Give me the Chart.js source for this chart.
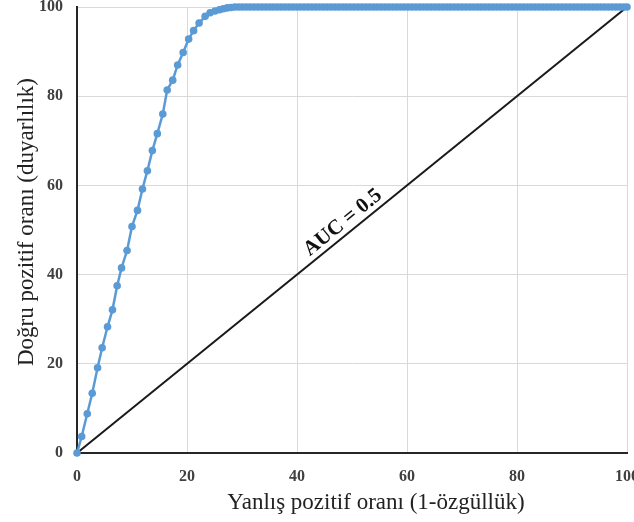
<!DOCTYPE html>
<html>
<head>
<meta charset="utf-8">
<script src="https://cdn.jsdelivr.net/npm/chart.js@4"></script>
<style>
  html, body { margin: 0; padding: 0; background: #fff; }
  #wrap { width: 634px; height: 522px; }
</style>
</head>
<body>
<div id="wrap"><canvas id="chart"></canvas></div>
<script>
// ROC curve points (false positive rate, true positive rate)
const rocX = [
    0, 0.85, 1.86, 2.77, 3.74, 4.57, 5.55, 6.45, 7.3, 8.1,
    9.1, 10.0, 11.0, 11.9, 12.8, 13.7, 14.6, 15.6, 16.4, 17.4,
    18.3, 19.3, 20.3, 21.2, 22.2, 23.3, 24.2, 25.1, 25.9, 26.6,
    27.3, 28.0,
    28.7, 29.4, 30.1, 30.8, 31.5, 32.2, 32.9, 33.6, 34.3, 35.0,
    35.7, 36.4, 37.1, 37.8, 38.5, 39.2, 39.9, 40.6, 41.3, 42.0,
    42.7, 43.4, 44.1, 44.8, 45.5, 46.2, 46.9, 47.6, 48.3, 49.0,
    49.7, 50.4, 51.1, 51.8, 52.5, 53.2, 53.9, 54.6, 55.3, 56.0,
    56.7, 57.4, 58.1, 58.8, 59.5, 60.2, 60.9, 61.6, 62.3, 63.0,
    63.7, 64.4, 65.1, 65.8, 66.5, 67.2, 67.9, 68.6, 69.3, 70.0,
    70.7, 71.4, 72.1, 72.8, 73.5, 74.2, 74.9, 75.6, 76.3, 77.0,
    77.7, 78.4, 79.1, 79.8, 80.5, 81.2, 81.9, 82.6, 83.3, 84.0,
    84.7, 85.4, 86.1, 86.8, 87.5, 88.2, 88.9, 89.6, 90.3, 91.0,
    91.7, 92.4, 93.1, 93.8, 94.5, 95.2, 95.9, 96.6, 97.3, 98.0,
    98.7, 99.4, 100
];
const rocY = [
    0, 3.7, 8.8, 13.4, 19.1, 23.6, 28.3, 32.1, 37.5, 41.5,
    45.4, 50.8, 54.4, 59.2, 63.3, 67.8, 71.6, 76.0, 81.4, 83.6,
    87.0, 89.8, 92.8, 94.7, 96.4, 97.9, 98.7, 99.1, 99.4, 99.6,
    99.8, 99.9,
    100, 100, 100, 100, 100, 100, 100, 100, 100, 100,
    100, 100, 100, 100, 100, 100, 100, 100, 100, 100,
    100, 100, 100, 100, 100, 100, 100, 100, 100, 100,
    100, 100, 100, 100, 100, 100, 100, 100, 100, 100,
    100, 100, 100, 100, 100, 100, 100, 100, 100, 100,
    100, 100, 100, 100, 100, 100, 100, 100, 100, 100,
    100, 100, 100, 100, 100, 100, 100, 100, 100, 100,
    100, 100, 100, 100, 100, 100, 100, 100, 100, 100,
    100, 100, 100, 100, 100, 100, 100, 100, 100, 100,
    100, 100, 100, 100, 100, 100, 100, 100, 100, 100,
    100, 100, 100
];

// chance line
const refX = [0, 100];
const refY = [0, 100];
const refLabel = 'AUC = 0.5';

const xTitle = 'Yanlış pozitif oranı (1-özgüllük)';
const yTitle = 'Doğru pozitif oranı (duyarlılık)';
const axisMin = 0;
const axisMax = 100;
const tickStep = 20;

const serif = "'Liberation Serif', 'Times New Roman', serif";
Chart.defaults.font.family = serif;

// label along the diagonal + axis titles (Excel puts the x title off-centre)
const extraText = {
    id: 'extraText',
    afterDatasetsDraw(chart) {
        const { ctx, scales: { x, y } } = chart;
        const x0 = x.getPixelForValue(refX[0]), y0 = y.getPixelForValue(refY[0]);
        const x1 = x.getPixelForValue(refX[1]), y1 = y.getPixelForValue(refY[1]);
        const angle = Math.atan2(y1 - y0, x1 - x0);
        const t = 0.43;
        ctx.save();
        ctx.translate(x0 + (x1 - x0) * t, y0 + (y1 - y0) * t);
        ctx.rotate(angle);
        ctx.font = 'bold 21px ' + serif;
        ctx.fillStyle = '#111';
        ctx.textAlign = 'left';
        ctx.textBaseline = 'alphabetic';
        ctx.fillText(refLabel, 0, -6);
        ctx.restore();
    },
    afterDraw(chart) {
        const { ctx } = chart;
        ctx.save();
        ctx.font = '23px ' + serif;
        ctx.fillStyle = '#222';
        ctx.textAlign = 'center';
        ctx.textBaseline = 'alphabetic';
        ctx.fillText(xTitle, 376, 509);
        ctx.translate(33, 222);
        ctx.rotate(-Math.PI / 2);
        ctx.fillText(yTitle, 0, 0);
        ctx.restore();
    }
};

const ctx = document.getElementById('chart').getContext('2d');
new Chart(ctx, {
    type: 'line',
    data: {
        datasets: [{
            data: refX.map((v, i) => ({ x: v, y: refY[i] })),
            borderColor: '#1a1a1a',
            borderWidth: 2,
            pointRadius: 0,
            order: 2
        }, {
            data: rocX.map((v, i) => ({ x: v, y: rocY[i] })),
            borderColor: '#5b9bd5',
            backgroundColor: '#5b9bd5',
            borderWidth: 2.5,
            pointRadius: 3.8,
            pointBorderWidth: 0,
            clip: false,
            order: 1
        }]
    },
    options: {
        responsive: true,
        maintainAspectRatio: false,
        animation: false,
        layout: { padding: { top: 7, right: 7, left: 0, bottom: 0 } },
        plugins: {
            legend: { display: false },
            tooltip: { enabled: false }
        },
        scales: {
            x: {
                type: 'linear',
                min: axisMin,
                max: axisMax,
                ticks: {
                    stepSize: tickStep,
                    padding: 14,
                    color: '#404040',
                    font: { size: 16, weight: 'bold' }
                },
                grid: { color: '#d9d9d9', lineWidth: 1, drawTicks: false },
                border: { color: '#262626', width: 2 },
                afterFit(scale) {
                    scale.height = 69;
                    scale.paddingLeft = 0;
                    scale.paddingRight = 0;
                }
            },
            y: {
                type: 'linear',
                min: axisMin,
                max: axisMax,
                ticks: {
                    stepSize: tickStep,
                    padding: 14,
                    color: '#404040',
                    font: { size: 16, weight: 'bold' }
                },
                grid: { color: '#d9d9d9', lineWidth: 1, drawTicks: false },
                border: { color: '#262626', width: 2 },
                afterFit(scale) {
                    scale.width = 77;
                    scale.paddingTop = 0;
                    scale.paddingBottom = 0;
                }
            }
        }
    },
    plugins: [extraText]
});
</script>
</body>
</html>
